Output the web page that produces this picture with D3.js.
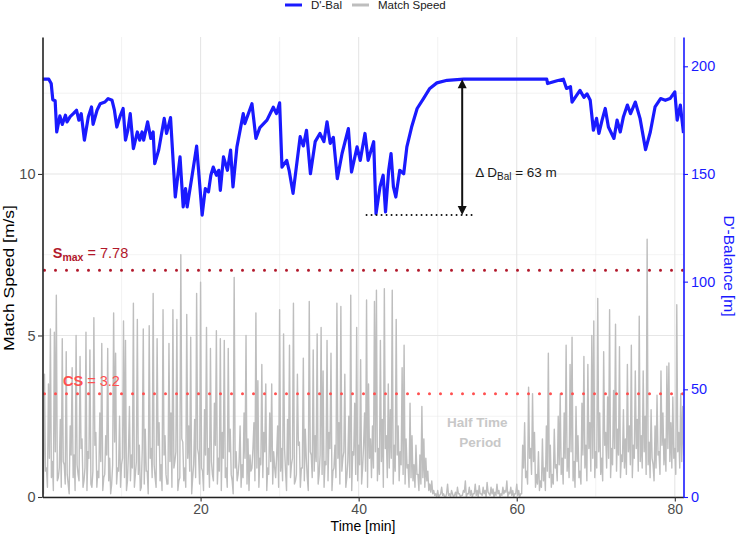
<!doctype html>
<html>
<head>
<meta charset="utf-8">
<title>D'-Balance vs Match Speed</title>
<script src="https://cdnjs.cloudflare.com/ajax/libs/d3/7.8.5/d3.min.js"></script>
<style>
body { margin: 0; background: #fff; }
svg { display: block; font-family: "Liberation Sans", Arial, sans-serif; }
</style>
</head>
<body>
<svg width="737" height="535"></svg>
<script>

/* DATA */

// match speed [m/s]: peak reading every 0.25 min ...
var speedStep = 0.25;
var speed = [
  0.2,3.8,0.9,3.5,5.2,1.1,5.1,6.25,0.6,2.4,
  4.9,1.0,4.5,0.4,2.2,4.0,1.3,5.0,0.7,4.35,
  1.8,0.5,5.1,1.4,4.55,0.3,5.55,2.0,0.8,2.6,
  4.75,0.6,1.9,4.6,1.2,0.4,5.7,4.45,0.9,2.5,
  1.0,5.45,4.85,0.5,2.8,1.3,6.0,0.7,5.5,1.6,
  0.3,5.2,2.1,0.8,5.3,1.5,6.3,0.6,4.9,2.3,
  1.0,5.8,1.9,0.4,4.75,2.6,5.8,1.1,5.5,0.5,
  7.5,1.7,0.9,5.65,2.2,4.95,0.6,2.4,6.3,1.3,
  6.65,0.8,2.7,5.25,1.5,4.6,0.7,2.9,5.15,1.2,
  4.9,2.0,4.85,0.9,4.6,2.1,0.5,6.8,1.4,0.7,
  2.2,1.0,2.6,5.0,1.8,1.3,0.9,2.3,5.7,3.6,
  1.2,4.1,2.0,3.5,0.9,2.6,3.5,1.4,0.6,2.2,
  5.8,1.5,5.05,0.8,2.4,4.7,1.0,6.0,0.5,3.8,
  1.7,0.9,4.3,2.1,0.6,6.05,1.3,4.55,1.9,5.05,
  0.7,5.25,3.9,1.1,4.85,2.0,4.45,0.8,1.6,6.0,
  2.3,5.9,1.2,3.8,0.6,2.5,6.25,1.4,2.9,5.25,
  1.6,4.25,0.9,2.6,6.1,3.5,1.8,2.2,6.05,6.4,
  1.5,4.85,2.4,6.45,1.9,3.5,2.7,6.4,1.6,5.5,
  2.2,1.4,4.0,4.7,1.8,1.0,2.9,1.9,1.0,1.6,
  0.7,1.3,2.8,1.8,1.2,0.8,0.4,0.5,0.2,0.1,
  0.2,0.05,0.3,0.1,0.0,0.4,0.1,0.2,0.0,0.15,
  0.3,0.1,0.05,0.2,0.5,0.1,0.3,0.2,0.1,0.4,
  0.2,0.35,0.1,0.3,0.2,0.45,0.1,0.3,0.25,0.15,
  0.4,0.2,0.1,0.3,0.2,0.5,0.15,0.3,0.2,0.1,
  0.4,0.2,0.1,1.6,2.3,0.8,3.4,1.5,3.2,2.0,
  0.7,1.4,0.5,1.8,0.9,2.2,4.45,1.6,0.7,2.1,
  1.0,2.5,3.2,1.2,2.6,4.7,1.5,4.1,4.95,1.1,
  2.8,1.9,0.8,2.9,4.35,1.6,4.1,2.3,5.0,5.45,
  1.4,6.15,2.6,1.2,4.5,2.0,3.1,5.8,1.5,3.3,
  5.35,2.1,4.65,1.3,2.7,1.8,4.1,2.2,4.7,1.6,
  3.9,2.4,5.6,1.9,3.9,2.5,7.98,1.7,2.7,1.0,
  2.2,3.15,1.4,3.9,2.6,1.8,4.05,4.15,2.3,3.1,
  1.5,5.95,2.0,3.2,2.8,5.2
];
// ... and the trough between each pair of readings
var speedTrough = [
  0.1,0.8,0.3,1.2,0.6,0.2,1.4,0.5,0.9,0.3,
  1.1,0.4,0.7,0.1,1.3,0.6,0.2,1.0,0.5,1.5,
  0.3,0.9,0.2,1.2,0.4,0.8,1.6,0.3,0.6,1.1,
  0.2,0.7,1.3,0.5,0.1,1.0,1.7,0.4,0.8,0.3,
  1.2,0.6,0.2,1.4,0.5,0.9,0.3,1.1,0.7,0.2,
  1.5,0.4,0.8,0.1,1.2,0.6,1.0,0.3,1.6,0.5,
  0.2,1.3,0.7,0.4,1.1,0.3,0.9,1.4,0.2,0.6,
  1.8,0.5,0.3,1.2,0.8,0.1,1.0,0.6,1.5,0.4,
  0.9,0.2,1.3,0.7,0.3,1.1,0.5,1.6,0.4,0.8,
  0.2,1.2,0.6,0.3,1.4,0.7,0.1,0.9,0.5,1.1,
  0.3,0.6,1.2,0.4,0.2,0.8,1.5,0.5,0.9,0.3,
  1.0,0.6,1.4,0.2,0.7,1.1,0.4,0.9,1.3,0.3,
  0.8,0.5,1.5,0.2,1.0,0.6,1.2,0.4,0.7,1.6,
  0.3,0.9,0.5,1.2,0.2,1.4,0.6,0.8,1.1,0.4,
  1.3,0.7,0.3,1.0,0.5,1.5,0.2,0.9,0.6,1.2,
  0.4,0.8,1.4,0.3,1.1,0.6,0.2,1.3,0.7,0.5,
  1.0,0.4,1.6,0.8,0.3,1.2,0.6,0.9,1.4,0.5,
  0.7,1.1,0.3,1.5,0.6,0.9,1.2,0.4,0.8,1.3,
  0.5,1.0,0.7,0.4,0.9,0.3,0.6,0.5,0.3,0.7,
  0.2,0.4,0.6,0.3,0.5,0.2,0.15,0.1,0.05,0.0,
  0.0,0.1,0.05,0.0,0.1,0.05,0.0,0.1,0.05,0.0,
  0.1,0.0,0.05,0.15,0.0,0.1,0.05,0.0,0.1,0.05,
  0.0,0.1,0.05,0.1,0.0,0.15,0.05,0.1,0.0,0.05,
  0.1,0.0,0.05,0.1,0.15,0.0,0.1,0.05,0.0,0.1,
  0.05,0.0,0.1,0.9,0.6,0.4,1.2,0.7,1.1,0.3,
  0.4,0.2,0.3,0.5,0.2,0.8,0.6,0.3,0.4,0.9,
  0.5,1.0,0.7,0.4,1.2,0.8,0.6,1.4,0.5,0.3,
  1.1,0.6,0.4,1.3,0.9,0.5,1.5,0.8,1.2,0.6,
  0.9,1.4,0.7,0.5,1.6,0.9,1.2,0.6,1.0,1.5,
  0.8,1.3,0.6,1.1,0.9,0.7,1.4,1.0,0.6,1.2,
  1.5,0.8,1.1,0.9,1.4,0.7,1.0,0.6,1.2,0.5,
  0.9,1.3,0.7,1.6,1.0,0.8,1.5,1.1,0.9,1.2,
  0.7,1.4,0.9,1.1,1.3
];

// D'-balance [m]
var balTime = [
  0,0.8,1.1,1.3,1.6,1.8,2.2,2.5,2.9,3.1,
  3.5,3.9,4.3,4.6,4.9,5.3,5.8,6.2,6.4,6.9,
  7.3,7.9,8.3,8.8,9.1,9.4,9.8,10.2,10.5,10.8,
  11.1,11.5,12.0,12.3,12.6,12.8,13.3,13.7,14.0,14.2,
  14.7,15.4,15.7,16.2,16.8,17.4,17.8,18.1,18.3,18.9,
  19.5,20.2,20.6,21.0,21.3,21.6,22.0,22.3,22.5,22.9,
  23.4,23.8,24.1,24.6,25.4,25.6,26.5,27.0,27.5,28.4,
  29.2,29.6,30.0,30.3,30.9,31.2,31.7,32.6,33.0,33.4,
  33.9,34.5,35.1,35.6,36.0,36.4,36.8,37.3,37.9,38.7,
  39.1,39.8,40.2,40.8,41.2,41.9,42.2,42.7,43.1,43.4,
  43.8,44.1,44.4,44.7,45.2,45.7,46.1,46.7,47.4,48.2,
  49.0,49.9,51.2,53.3,63.8,63.9,65.1,65.9,66.3,66.8,
  67.0,67.4,68.0,68.5,68.9,69.3,69.7,70.1,70.4,70.8,
  71.2,71.6,72.3,72.7,73.1,73.5,74.0,74.4,75.0,75.6,
  76.3,76.9,77.5,78.2,78.8,79.4,80.0,80.3,80.7,81.1
];
var balValue = [
  194,194,192,184.5,184,169.5,177,173,177.3,174.2,
  176.6,178,179.6,175,178,165.7,176.6,181.1,173,179.6,
  182.6,183.4,185,184.2,179.6,171.8,176.6,180.4,165.7,170.3,
  178,161.8,169.5,165.7,169.5,165.7,174.2,166.5,169.5,154.8,
  161.1,175.8,168.8,176.2,139.3,157.9,134.7,143.2,134.7,148.6,
  162.9,130.9,143.2,141.7,149.4,153.2,149.4,151.7,142.4,157.9,
  151.7,161.1,144,162.6,178,173.4,182.6,166.5,171.5,175,
  181,178,183,153.2,156.3,151.7,141,167.3,163,170.3,
  150.1,165,168.8,165,174.2,164.2,167,147.8,159.5,171.1,
  150.9,162.6,156.3,168.8,156.3,165,131.6,144,149.4,132.4,
  151.7,159.5,144,139.3,151.7,150.1,162.6,171.8,180.4,185,
  189.7,192.3,193.5,194,194,192,193.3,194,189.7,190.5,
  183.4,185.6,188.8,185.6,187.2,184.2,170.3,175.8,168.8,175,
  180.4,171.8,166.5,175,169.5,176.6,182,178,183.4,175.8,
  161.3,169.5,181.1,185,184.2,185,188.1,175,182,169
];

// reference speeds (line drawn at refLevel, label shows refText)
var refName = ["S", "CS"];
var refSub = ["max", ""];
var refText = ["7.78", "3.2"];
var refLevel = [7.02, 3.2];
var refColor = ["#b2182b", "#ff5050"];

// D'-bal drop annotation
var dropTop = 194, dropBottom = 131, dropAt = 53.1, dropText = "63";

var xTicks = [20, 40, 60, 80];
var xMinor = [10, 30, 50, 70];
var speedTicks = [0, 5, 10];
var speedMinor = [2.5, 7.5, 12.5];
var balTicks = [0, 50, 100, 150, 200];

/* SCALES */

var svg = d3.select("svg");
var pL = 42.5, pR = 683.5, pT = 37, pB = 497;

var xScale = d3.scaleLinear().domain([0, 81.1]).range([pL, pR]);
var ySpeed = d3.scaleLinear().domain([0, 14.24]).range([pB, pT]);
var yBal = d3.scaleLinear().domain([0, 14.24 * 15]).range([pB, pT]);

svg.append("defs").append("clipPath").attr("id", "panel")
  .append("rect").attr("x", pL).attr("y", pT)
  .attr("width", pR - pL).attr("height", pB - pT);

/* GRID */

var grid = svg.append("g");
grid.selectAll(".vmin").data(xMinor).enter().append("line")
  .attr("x1", d => xScale(d)).attr("x2", d => xScale(d))
  .attr("y1", pT).attr("y2", pB)
  .style("stroke", "#ebebeb").style("stroke-width", 0.6);
grid.selectAll(".hmin").data(speedMinor).enter().append("line")
  .attr("x1", pL).attr("x2", pR)
  .attr("y1", d => ySpeed(d)).attr("y2", d => ySpeed(d))
  .style("stroke", "#ebebeb").style("stroke-width", 0.6);
grid.selectAll(".vmaj").data(xTicks).enter().append("line")
  .attr("x1", d => xScale(d)).attr("x2", d => xScale(d))
  .attr("y1", pT).attr("y2", pB)
  .style("stroke", "#e6e6e6").style("stroke-width", 1.1);
grid.selectAll(".hmaj").data(speedTicks).enter().append("line")
  .attr("x1", pL).attr("x2", pR)
  .attr("y1", d => ySpeed(d)).attr("y2", d => ySpeed(d))
  .style("stroke", "#e6e6e6").style("stroke-width", 1.1);

/* SERIES */

var plot = svg.append("g").attr("clip-path", "url(#panel)");

// peak, trough, peak, trough ...
var speedPts = [];
speed.forEach(function (v, i) {
  speedPts.push([i * speedStep, v]);
  if (i < speedTrough.length) speedPts.push([(i + 0.5) * speedStep, speedTrough[i]]);
});

var speedLine = d3.line()
  .x(d => xScale(d[0]))
  .y(d => ySpeed(d[1]));

plot.append("path")
  .datum(speedPts)
  .attr("d", speedLine)
  .style("fill", "none")
  .style("stroke", "#bebebe")
  .style("stroke-width", 1.4)
  .style("stroke-linejoin", "round");

// reference lines
plot.selectAll(".ref").data(refLevel).enter().append("line")
  .attr("x1", pL + 2).attr("x2", pR)
  .attr("y1", d => ySpeed(d)).attr("y2", d => ySpeed(d))
  .style("stroke", (d, i) => refColor[i])
  .style("stroke-width", 3)
  .style("stroke-linecap", "round")
  .style("stroke-dasharray", "0 11");

var balLine = d3.line()
  .x((d, i) => xScale(balTime[i]))
  .y(d => yBal(d));

plot.append("path")
  .datum(balValue)
  .attr("d", balLine)
  .style("fill", "none")
  .style("stroke", "#1a1aff")
  .style("stroke-width", 3.2)
  .style("stroke-linejoin", "round");

/* ANNOTATIONS */

var labelPos = [[1.3, 7.4], [2.6, 3.45]];
refName.forEach(function (name, i) {
  var t = svg.append("text")
    .attr("x", xScale(labelPos[i][0]))
    .attr("y", ySpeed(labelPos[i][1]))
    .style("fill", refColor[i])
    .style("font-size", "14.5px");
  t.append("tspan").text(name).style("font-weight", "bold");
  if (refSub[i]) {
    t.append("tspan").text(refSub[i]).attr("dy", 3)
      .style("font-weight", "bold").style("font-size", "10.5px");
    t.append("tspan").text(" = " + refText[i]).attr("dy", -3);
  } else {
    t.append("tspan").text(" = " + refText[i]);
  }
});

// dotted baseline + double arrow
svg.append("line")
  .attr("x1", xScale(41.0)).attr("x2", xScale(54.6))
  .attr("y1", yBal(dropBottom)).attr("y2", yBal(dropBottom))
  .style("stroke", "#111").style("stroke-width", 2)
  .style("stroke-linecap", "round").style("stroke-dasharray", "0 5");

svg.append("line")
  .attr("x1", xScale(dropAt)).attr("x2", xScale(dropAt))
  .attr("y1", yBal(dropTop) + 8).attr("y2", yBal(dropBottom) - 8)
  .style("stroke", "#111").style("stroke-width", 2);

var ax = xScale(dropAt), aTop = yBal(dropTop), aBot = yBal(dropBottom);
svg.append("path")
  .attr("d", "M" + ax + "," + aTop + "L" + (ax - 4.5) + "," + (aTop + 9) + "L" + (ax + 4.5) + "," + (aTop + 9) + "Z")
  .style("fill", "#111");
svg.append("path")
  .attr("d", "M" + ax + "," + aBot + "L" + (ax - 4.5) + "," + (aBot - 9) + "L" + (ax + 4.5) + "," + (aBot - 9) + "Z")
  .style("fill", "#111");

var dt = svg.append("text")
  .attr("x", xScale(54.75)).attr("y", yBal(148.5))
  .style("fill", "#1a1a1a").style("font-size", "13.5px");
dt.append("tspan").text("\u0394 D");
dt.append("tspan").text("Bal").attr("dy", 3).style("font-size", "10px");
dt.append("tspan").text(" = " + dropText + " m").attr("dy", -3);

svg.append("text")
  .attr("x", xScale(55.0)).attr("y", ySpeed(2.18))
  .attr("text-anchor", "middle")
  .style("fill", "#c8c8c8").style("font-weight", "bold").style("font-size", "13.5px")
  .text("Half Time");
svg.append("text")
  .attr("x", xScale(55.4)).attr("y", ySpeed(1.56))
  .attr("text-anchor", "middle")
  .style("fill", "#c8c8c8").style("font-weight", "bold").style("font-size", "13.5px")
  .text("Period");

/* AXES */

var xAxis = d3.axisBottom(xScale).tickValues(xTicks).tickSize(4.5).tickSizeOuter(0).tickPadding(2.5);
var gx = svg.append("g").attr("transform", "translate(0," + pB + ")").call(xAxis);
gx.select(".domain").style("stroke", "#222").style("stroke-width", 1.6);
gx.selectAll(".tick line").style("stroke", "#333").style("stroke-width", 1.1);
gx.selectAll("text").style("fill", "#4d4d4d").style("font-size", "14px").style("font-family", "Liberation Sans, Arial, sans-serif");

var yAxis = d3.axisLeft(ySpeed).tickValues(speedTicks).tickSize(4.5).tickSizeOuter(0).tickPadding(2.5);
var gy = svg.append("g").attr("transform", "translate(" + pL + ",0)").call(yAxis);
gy.select(".domain").style("stroke", "#222").style("stroke-width", 1.6);
gy.selectAll(".tick line").style("stroke", "#333").style("stroke-width", 1.1);
gy.selectAll("text").style("fill", "#4d4d4d").style("font-size", "14.5px").style("font-family", "Liberation Sans, Arial, sans-serif");

var yAxisR = d3.axisRight(yBal).tickValues(balTicks).tickSize(4.5).tickSizeOuter(0).tickPadding(3);
var gr = svg.append("g").attr("transform", "translate(" + pR + ",0)").call(yAxisR);
gr.select(".domain").style("stroke", "#1a1aff").style("stroke-width", 1.6);
gr.selectAll(".tick line").style("stroke", "#1a1aff").style("stroke-width", 1.1);
gr.selectAll("text").style("fill", "#1a1aff").style("font-size", "14.5px").style("font-family", "Liberation Sans, Arial, sans-serif");

/* TITLES + LEGEND */

svg.append("text")
  .attr("transform", "translate(" + ((pL + pR) / 2) + ",531)")
  .attr("text-anchor", "middle")
  .style("font-size", "14px").style("fill", "#000")
  .text("Time [min]");

svg.append("text")
  .attr("transform", "translate(14,278) rotate(-90)")
  .attr("text-anchor", "middle")
  .attr("textLength", 146).attr("lengthAdjust", "spacingAndGlyphs")
  .style("font-size", "15px").style("fill", "#000")
  .text("Match Speed [m/s]");

svg.append("text")
  .attr("transform", "translate(724,266) rotate(90)")
  .attr("text-anchor", "middle")
  .style("font-size", "15.5px").style("fill", "#1a1aff")
  .text("D'-Balance [m]");

var legendNames = ["D'-Bal", "Match Speed"];
var legendColors = ["#1a1aff", "#bebebe"];
var legendX = [285, 352];
var legend = svg.append("g");
legendNames.forEach(function (name, i) {
  legend.append("line")
    .attr("x1", legendX[i]).attr("x2", legendX[i] + 17)
    .attr("y1", 5).attr("y2", 5)
    .style("stroke", legendColors[i]).style("stroke-width", 3);
  legend.append("text")
    .attr("x", legendX[i] + 26).attr("y", 9)
    .style("font-size", "11.5px").style("fill", "#1a1a1a")
    .text(name);
});

</script>
</body>
</html>
